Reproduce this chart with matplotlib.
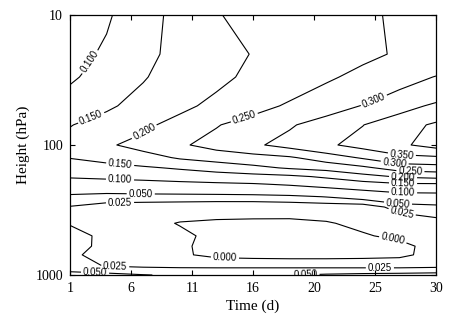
import numpy as np
import matplotlib
matplotlib.use("Agg")
import matplotlib.pyplot as plt
from matplotlib.ticker import NullLocator, FixedLocator, FixedFormatter

# ---------------- data ----------------
time_days = [1, 4, 7, 10, 13, 16, 19, 22, 25, 28, 31]
pressure_hpa = [10, 20, 30, 50, 70, 100, 125, 150, 175, 200, 250, 300,
                400, 500, 600, 700, 850, 925, 1000]

p10 = [0.060, 0.094, 0.131, 0.165, 0.198, 0.210, 0.220, 0.230, 0.243, 0.256, 0.265]
p20 = [0.080, 0.109, 0.139, 0.163, 0.183, 0.202, 0.215, 0.228, 0.242, 0.254, 0.265]
p30 = [0.093, 0.120, 0.147, 0.169, 0.190, 0.209, 0.227, 0.244, 0.261, 0.280, 0.302]
p50 = [0.125, 0.143, 0.166, 0.189, 0.212, 0.234, 0.256, 0.279, 0.302, 0.333, 0.358]
p70 = [0.148, 0.169, 0.190, 0.217, 0.247, 0.271, 0.295, 0.321, 0.349, 0.378, 0.408]
p100 = [0.168, 0.193, 0.218, 0.243, 0.268, 0.292, 0.317, 0.342, 0.367, 0.392, 0.417]
p125 = [0.152, 0.165, 0.180, 0.206, 0.221, 0.231, 0.244, 0.275, 0.306, 0.336, 0.342]
p150 = [0.124, 0.135, 0.144, 0.155, 0.170, 0.188, 0.205, 0.217, 0.239, 0.273, 0.279]
p175 = [0.104, 0.109, 0.114, 0.122, 0.127, 0.132, 0.140, 0.157, 0.183, 0.205, 0.214]
p200 = [0.080, 0.081, 0.084, 0.088, 0.093, 0.097, 0.105, 0.117, 0.130, 0.144, 0.145]
p250 = [0.043, 0.038, 0.039, 0.039, 0.039, 0.040, 0.043, 0.051, 0.064, 0.077, 0.079]
p300 = [0.0235, 0.015, 0.012, 0.010, 0.008, 0.007, 0.008, 0.009, 0.009, 0.036, 0.042]
p400 = [0.023, 0.012, 0.006, -0.001, -0.0027, -0.003, -0.0036, -0.0014, 0.004, 0.002, 0.0145]
p500 = [0.036, 0.0177, 0.008, 0.004, -0.005, -0.007, -0.008, -0.007, -0.0018, 0.004, 0.012]
p600 = [0.035, 0.018, 0.009, 0.003, -0.006, -0.008, -0.009, -0.009, -0.008, -0.006, 0.008]
p700 = [0.028, 0.019, 0.010, 0.003, -0.005, -0.007, -0.008, -0.008, -0.007, -0.005, 0.008]
p850 = [0.032, 0.024, 0.020, 0.017, 0.016, 0.016, 0.016, 0.016, 0.016, 0.016, 0.018]
p925 = [0.045, 0.040, 0.038, 0.038, 0.038, 0.038, 0.038, 0.038, 0.038, 0.038, 0.040]
p1000 = [0.065, 0.058, 0.051, 0.047, 0.045, 0.046, 0.049, 0.053, 0.056, 0.058, 0.060]

contour_levels = [0.000, 0.025, 0.050, 0.100, 0.150, 0.200, 0.250, 0.300, 0.350, 0.400]

xtick_pos = [1, 6, 11, 16, 21, 26, 31]
xtick_labels = ['1', '6', '11', '16', '20', '25', '30']
ytick_pos = [10, 100, 1000]
ytick_labels = ['10', '100', '1000']

# approximate anchor points (time, hPa) where the contour labels sit
label_anchors = [
    (3.05, 24.2), (2.64, 58.7), (7.15, 80.8), (15.3, 62.0), (25.8, 42.8),
    (28.2, 119.4), (27.6, 140.0), (28.9, 161.0), (28.3, 176.0), (28.3, 196.0),
    (28.3, 230.0), (27.9, 274.0), (28.2, 333.0),
    (5.1, 145.0), (5.1, 183.0), (6.8, 230.0), (5.1, 274.0),
    (13.7, 740.0), (27.6, 451.0), (4.7, 883.0), (26.4, 899.0),
    (3.05, 985.0), (20.3, 985.0),
]

# ---------------- figure ----------------
values = np.array([p10, p20, p30, p50, p70, p100, p125, p150, p175, p200,
                   p250, p300, p400, p500, p600, p700, p850, p925, p1000])

W, H = 456, 325
fig = plt.figure(figsize=(W / 100, H / 100), dpi=100)
ax = fig.add_axes([70 / W, 1 - 275 / H, 366 / W, 260 / H])

ax.set_yscale('log')
ax.set_xlim(1, 31)
ax.set_ylim(1000, 10)
cs = ax.contour(time_days, pressure_hpa, values, levels=contour_levels,
                colors='black', linewidths=0.8)
ax.set_xlim(1, 31)
ax.set_ylim(1000, 10)

plt.rcParams['font.family'] = ['Liberation Sans', 'DejaVu Sans']
ax.clabel(cs, fmt='%.3f', fontsize=7, inline=True, inline_spacing=2,
          manual=label_anchors)

ax.xaxis.set_major_locator(FixedLocator(xtick_pos))
ax.xaxis.set_major_formatter(FixedFormatter(xtick_labels))
ax.yaxis.set_major_locator(FixedLocator(ytick_pos))
ax.yaxis.set_major_formatter(FixedFormatter(ytick_labels))
ax.yaxis.set_minor_locator(NullLocator())
ax.xaxis.set_minor_locator(NullLocator())

ax.tick_params(direction='in', top=True, right=True, length=3.5, width=0.8,
               labelsize=10, pad=5)
for lab in ax.get_xticklabels() + ax.get_yticklabels():
    lab.set_fontfamily('Liberation Serif')

ax.set_xlabel('Time (d)', fontfamily='Liberation Serif', fontsize=11, labelpad=3)
ax.set_ylabel('Height (hPa)', fontfamily='Liberation Serif', fontsize=11, labelpad=4)

for s in ax.spines.values():
    s.set_linewidth(0.9)

fig.savefig('out.png', dpi=100)
